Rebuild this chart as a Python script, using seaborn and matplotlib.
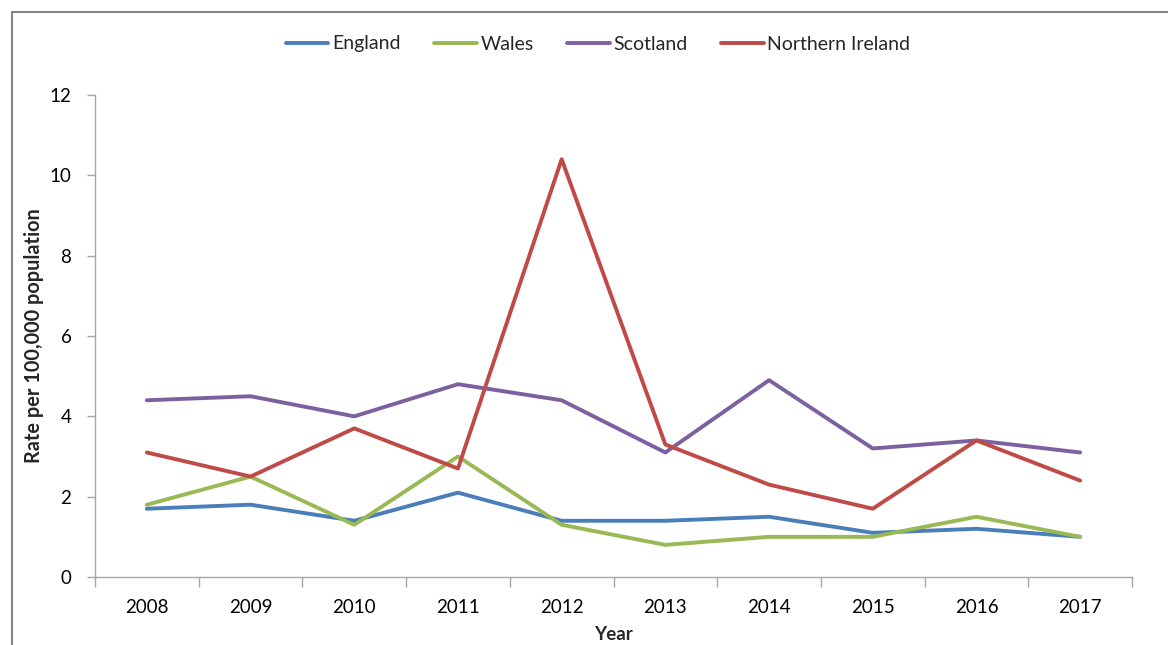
import matplotlib
matplotlib.use("Agg")
import matplotlib.pyplot as plt
import seaborn as sns
import pandas as pd
from matplotlib.patches import Rectangle

years = [2008, 2009, 2010, 2011, 2012, 2013, 2014, 2015, 2016, 2017]
england = [1.7, 1.8, 1.4, 2.1, 1.4, 1.4, 1.5, 1.1, 1.2, 1.0]
wales = [1.8, 2.5, 1.3, 3.0, 1.3, 0.8, 1.0, 1.0, 1.5, 1.0]
scotland = [4.4, 4.5, 4.0, 4.8, 4.4, 3.1, 4.9, 3.2, 3.4, 3.1]
northern_ireland = [3.1, 2.5, 3.7, 2.7, 10.4, 3.3, 2.3, 1.7, 3.4, 2.4]
series_names = ["England", "Wales", "Scotland", "Northern Ireland"]
colors = ["#4A7EBB", "#98B954", "#7D60A0", "#BE4B48"]

sns.set_style("white")
plt.rcParams['font.family'] = ['Lato', 'DejaVu Sans']

rows = []
for name, vals in zip(series_names, [england, wales, scotland, northern_ireland]):
    for y, v in zip(years, vals):
        rows.append({"Year": y, "Rate": v, "Country": name})
df = pd.DataFrame(rows)

W, H = 1168, 645
fig = plt.figure(figsize=(W / 100, H / 100), dpi=100)
ax = fig.add_axes([95 / W, 1 - 577 / H, (1132 - 95) / W, (577 - 95) / H])

sns.lineplot(data=df, x="Year", y="Rate", hue="Country", hue_order=series_names,
             palette=colors, linewidth=2.8, ax=ax, legend=True)

ax.set_xlim(2007.5, 2017.5)
ax.set_ylim(0, 12)
ax.set_yticks(range(0, 13, 2))
ax.set_xticks(years)
ax.set_xticklabels([str(y) for y in years])
ax.set_xticks([y - 0.5 for y in years] + [2017.5], minor=True)
ax.tick_params(axis="x", which="major", length=0, pad=16, labelsize=13.5, colors="black")
ax.tick_params(axis="x", which="minor", length=7, width=1, color="#A6A6A6", direction="out")
ax.tick_params(axis="y", which="major", length=6, width=1, color="#A6A6A6", direction="out",
               pad=11, labelsize=13.5, labelcolor="black")
ax.tick_params(bottom=True, left=True, which="both")
for s in ["top", "right"]:
    ax.spines[s].set_visible(False)
for s in ["left", "bottom"]:
    ax.spines[s].set_color("#A6A6A6")
    ax.spines[s].set_linewidth(1)

ax.set_xlabel("Year", fontsize=13.5, fontweight="bold")
ax.xaxis.set_label_coords(0.5, (577 - 626) / 482)
ax.set_ylabel("Rate per 100,000 population", fontsize=14.3, fontweight="bold")
ax.yaxis.set_label_coords((44 - 95) / 1037, 0.5)

handles, labels = ax.get_legend_handles_labels()
ax.legend(handles, labels, loc="center", bbox_to_anchor=(598 / W, 1 - 44 / H),
          bbox_transform=fig.transFigure, ncol=4, frameon=False, fontsize=14,
          handlelength=2.2, handletextpad=0.2, columnspacing=1.7)

fig.patches.append(Rectangle((12 / W, -0.1), 1.2, 1 - 12 / H + 0.1, transform=fig.transFigure,
                             fill=False, edgecolor="#868686", linewidth=1.5))

fig.savefig("out.png", dpi=100)
